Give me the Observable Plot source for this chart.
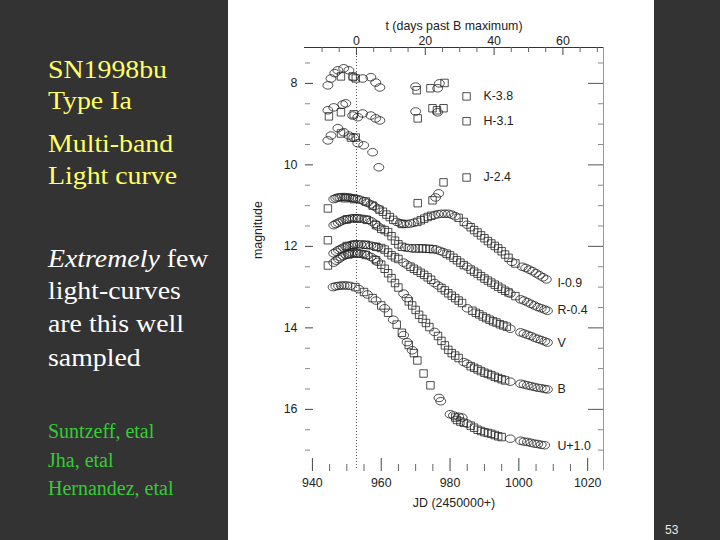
<!DOCTYPE html>
<html><head><meta charset="utf-8">
<script src="https://cdn.jsdelivr.net/npm/d3@7"></script>
<script src="https://cdn.jsdelivr.net/npm/@observablehq/plot@0.6"></script>
<style>
html,body{margin:0;padding:0;}
body{width:720px;height:540px;background:#333333;position:relative;overflow:hidden;}
#panel{position:absolute;left:228px;top:0;width:426px;height:540px;background:#ffffff;}
#chart{position:absolute;left:0;top:0;}
.t{position:absolute;left:48px;font-family:"Liberation Serif","Times New Roman",serif;white-space:nowrap;line-height:1;transform-origin:left center;}
.big{font-size:26px;transform:scaleX(1.07);}
.y{color:#ffff66;}
.w{color:#ffffff;}
.g{color:#33cc33;font-size:20px;}
#pg{position:absolute;left:665px;top:524px;font-family:"Liberation Sans",Arial,sans-serif;font-size:12px;line-height:1;color:#e8e8e8;}
</style></head>
<body>
<div id="panel"></div>
<div id="chart"></div>
<div class="t big y" style="top:57px">SN1998bu</div>
<div class="t big y" style="top:88px">Type Ia</div>
<div class="t big y" style="top:131px">Multi-band</div>
<div class="t big y" style="top:163px">Light curve</div>
<div class="t big w" style="top:246px"><i>Extremely</i> few</div>
<div class="t big w" style="top:278px">light-curves</div>
<div class="t big w" style="top:311px">are this well</div>
<div class="t big w" style="top:345px">sampled</div>
<div class="t g" style="top:421px">Suntzeff, etal</div>
<div class="t g" style="top:450px">Jha, etal</div>
<div class="t g" style="top:478px">Hernandez, etal</div>
<div id="pg">53</div>
<script>
// ---- data (JD-2450000, magnitude incl. offsets) ----
const tZero = 952.8; // JD of B maximum
const xDomain = [937.7, 1024.6];
const yDomain = [7.12, 17.5];

const K_c = [[944.5,8.05],[945.4,7.88],[946.5,7.75],[947.4,7.68],[949.1,7.63],[950.6,7.68],[952.0,7.85],[954.6,7.88],[957.0,7.85],[958.4,7.98],[959.6,8.10],[970.0,8.08],[976.4,8.12],[976.9,8.00]];
const K_s = [[948.3,7.83],[951.7,7.83],[952.6,7.88],[970.3,8.17],[974.3,8.12],[978.4,7.99]];
const H_c = [[944.5,8.66],[946.2,8.59],[948.8,8.52],[949.7,8.49],[951.7,8.79],[953.2,8.83],[954.6,8.74],[957.0,8.79],[958.4,8.86],[959.6,8.91],[970.0,8.69],[976.4,8.71]];
const H_s = [[944.8,8.81],[948.3,8.71],[952.0,8.76],[970.6,8.86],[974.9,8.61],[976.2,8.66],[978.1,8.61]];
const J_c = [[944.5,9.40],[945.4,9.28],[947.4,9.10],[949.1,9.20],[950.6,9.28],[952.0,9.33],[953.2,9.47],[954.9,9.52],[957.5,9.69],[959.3,10.06],[975.8,10.80],[976.7,10.70]];
const J_s = [[948.3,9.23],[951.2,9.33],[952.6,9.33],[970.6,10.94],[974.9,10.87],[978.1,10.43]];

const I_c = [[946.2,10.84],[946.8,10.82],[947.4,10.80],[948.0,10.80],[948.6,10.79],[949.3,10.79],[950.0,10.80],[950.6,10.80],[951.2,10.81],[951.8,10.82],[952.5,10.83],[953.2,10.84],[954.0,10.86],[955.0,10.89],[956.0,10.93],[957.0,10.97],[958.0,11.02],[959.0,11.07],[964.5,11.40],[965.5,11.43],[966.5,11.45],[967.5,11.45],[968.5,11.44],[969.5,11.42],[975.5,11.23],[976.5,11.21],[977.5,11.20],[978.5,11.20],[979.5,11.20],[980.5,11.22],[981.5,11.26],[985.0,11.47],[998.0,12.38],[1001.0,12.50],[1002.0,12.53],[1003.0,12.57],[1004.0,12.61],[1005.0,12.66],[1006.0,12.71],[1007.0,12.76],[1008.0,12.81]];
const I_s = [[944.5,11.07],[949.5,10.82],[952.0,10.84],[955.5,10.90],[957.5,11.00],[959.5,11.10],[960.5,11.15],[961.5,11.22],[962.5,11.28],[963.5,11.35],[966.0,11.45],[970.5,11.40],[971.5,11.36],[972.5,11.32],[973.5,11.28],[974.5,11.25],[982.5,11.30],[984.0,11.40],[986.0,11.53],[987.0,11.60],[988.0,11.66],[989.0,11.73],[990.0,11.80],[991.0,11.87],[992.0,11.93],[993.0,11.99],[994.0,12.05],[995.0,12.12],[996.0,12.20],[997.0,12.28],[999.0,12.42]];

const R_c = [[946.2,11.48],[946.8,11.45],[947.5,11.42],[948.2,11.39],[949.0,11.36],[949.7,11.34],[950.4,11.33],[951.1,11.32],[951.8,11.31],[952.5,11.31],[953.3,11.31],[954.2,11.32],[955.2,11.33],[956.2,11.35],[957.2,11.39],[958.2,11.45],[959.2,11.52],[967.0,12.03],[968.0,12.04],[969.0,12.05],[976.0,12.08],[977.0,12.11],[978.0,12.14],[985.0,12.50],[997.5,13.16],[1000.5,13.30],[1001.5,13.33],[1002.5,13.37],[1003.5,13.41],[1004.5,13.45],[1005.5,13.49],[1006.5,13.52],[1007.5,13.55],[1008.3,13.58]];
const R_s = [[944.5,11.85],[950.0,11.34],[953.0,11.32],[955.8,11.35],[958.5,11.48],[960.0,11.57],[961.0,11.60],[962.0,11.65],[963.0,11.75],[964.0,11.86],[965.0,11.95],[966.0,12.01],[970.0,12.05],[971.0,12.05],[972.0,12.05],[973.0,12.06],[974.0,12.06],[975.0,12.07],[979.0,12.18],[980.0,12.22],[981.0,12.28],[982.0,12.34],[983.0,12.40],[984.0,12.46],[986.0,12.57],[987.0,12.62],[988.0,12.67],[989.0,12.73],[990.0,12.79],[991.0,12.84],[992.0,12.89],[993.0,12.94],[994.0,12.99],[995.0,13.04],[996.0,13.09],[997.0,13.13],[999.0,13.22]];

const V_c = [[946.2,12.17],[946.9,12.13],[947.6,12.09],[948.3,12.06],[949.0,12.03],[949.7,12.01],[950.4,11.99],[951.1,11.97],[951.8,11.96],[952.5,11.95],[953.2,11.95],[954.0,11.95],[955.0,11.96],[956.0,11.97],[957.0,11.98],[958.0,12.00],[959.0,12.02],[966.5,12.40],[967.5,12.45],[975.5,12.90],[976.5,12.96],[985.0,13.52],[997.5,14.02],[1000.5,14.11],[1001.5,14.14],[1002.5,14.17],[1003.5,14.20],[1004.5,14.24],[1005.5,14.27],[1006.5,14.30],[1007.5,14.33],[1008.3,14.36]];
const V_s = [[944.5,12.47],[950.0,11.99],[952.0,11.96],[955.5,11.96],[958.5,12.01],[960.0,12.04],[961.0,12.08],[962.0,12.15],[963.0,12.22],[964.0,12.27],[965.0,12.31],[968.5,12.50],[969.5,12.55],[970.5,12.60],[971.5,12.65],[972.5,12.70],[973.5,12.76],[974.5,12.82],[977.5,13.02],[978.5,13.08],[979.5,13.15],[980.5,13.21],[981.5,13.27],[982.5,13.33],[983.5,13.39],[986.5,13.58],[987.5,13.63],[988.5,13.67],[989.5,13.72],[990.5,13.76],[991.5,13.80],[992.5,13.84],[993.5,13.87],[994.5,13.91],[995.5,13.94],[996.5,13.97]];

const B_c = [[946.2,12.40],[946.9,12.35],[947.6,12.31],[948.3,12.27],[949.0,12.24],[949.7,12.21],[950.4,12.19],[951.1,12.18],[951.8,12.17],[952.5,12.17],[953.3,12.17],[954.1,12.18],[955.0,12.19],[956.0,12.22],[957.0,12.26],[958.0,12.31],[959.0,12.38],[966.5,13.16],[967.5,13.27],[975.5,14.10],[984.0,14.84],[985.0,14.88],[997.5,15.32],[1000.5,15.37],[1001.5,15.39],[1002.5,15.41],[1003.5,15.43],[1004.5,15.45],[1005.5,15.47],[1006.5,15.48],[1007.5,15.50],[1008.3,15.51]];
const B_s = [[950.5,12.20],[953.0,12.18],[955.5,12.21],[958.5,12.34],[960.0,12.45],[961.0,12.55],[962.0,12.66],[963.0,12.78],[964.0,12.90],[965.0,13.01],[968.0,13.35],[969.0,13.45],[970.0,13.56],[971.0,13.68],[972.0,13.78],[973.0,13.88],[974.0,13.98],[976.5,14.20],[977.5,14.32],[978.5,14.43],[979.5,14.54],[980.5,14.62],[981.5,14.68],[982.5,14.74],[986.0,14.94],[987.0,14.98],[988.0,15.02],[989.0,15.06],[990.0,15.10],[991.0,15.13],[992.0,15.16],[993.0,15.20],[994.0,15.23],[995.0,15.26],[996.0,15.29]];

const U_c = [[946.0,13.00],[946.8,12.98],[947.6,12.97],[948.4,12.96],[949.2,12.96],[950.0,12.96],[951.0,12.97],[953.5,13.05],[956.0,13.18],[958.5,13.33],[961.0,13.52],[963.5,13.80],[966.5,14.18],[967.5,14.35],[969.0,14.55],[976.8,15.72],[977.3,15.80],[980.0,16.12],[981.0,16.15],[982.5,16.18],[983.5,16.20],[985.0,16.35],[997.5,16.72],[1000.5,16.77],[1001.5,16.79],[1002.5,16.80],[1003.5,16.82],[1004.5,16.84],[1005.5,16.85],[1006.5,16.87],[1007.5,16.88]];
const U_s = [[952.5,13.00],[955.0,13.12],[957.5,13.27],[960.0,13.45],[962.0,13.63],[964.5,13.92],[966.0,14.12],[968.0,14.42],[969.5,14.62],[970.5,14.80],[972.3,15.12],[974.3,15.41],[981.5,16.20],[982.0,16.26],[983.0,16.30],[984.0,16.33],[986.0,16.40],[987.0,16.45],[988.0,16.50],[989.0,16.53],[990.0,16.56],[991.0,16.58],[992.0,16.60],[993.0,16.63],[994.0,16.66],[995.0,16.68]];

// labels
const irLabels = ["K-3.8", "H-3.1", "J-2.4"];
const irLabelMag = [8.32, 8.93, 10.31];
const irMarkJD = 984.8;
const irTextJD = 989.7;
const optLabels = ["I-0.9", "R-0.4", "V", "B", "U+1.0"];
const optLabelMag = [12.91, 13.57, 14.36, 15.51, 16.91];
const optLabelJD = 1011.2;

// ticks
const yMajor = [8, 10, 12, 14, 16];
const yMinor = [7.5, 8.5, 9, 9.5, 10.5, 11, 11.5, 12.5, 13, 13.5, 14.5, 15, 15.5, 16.5, 17];
const jdMajor = [940, 960, 980, 1000, 1020];
const jdMinor = [945, 950, 955, 965, 970, 975, 985, 990, 995, 1005, 1010, 1015];
const tMajor = [0, 20, 40, 60];
const tMinor = [-10, -5, 5, 10, 15, 25, 30, 35, 45, 50, 55, 65, 70];

// ---- build ----
const circles = [K_c, H_c, J_c, I_c, R_c, V_c, B_c, U_c].flat();
const squares = [K_s, H_s, J_s, I_s, R_s, V_s, B_s, U_s].flat();
const irRows = irLabels.map((s, i) => ({label: s, mag: irLabelMag[i]}));
const optRows = optLabels.map((s, i) => ({label: s, mag: optLabelMag[i]}));

const ellipse = {
  draw(ctx, size) {
    const r = Math.sqrt(size / Math.PI);
    const rx = r * 1.15, ry = r * 0.88, k = 0.5523;
    ctx.moveTo(rx, 0);
    ctx.bezierCurveTo(rx, k * ry, k * rx, ry, 0, ry);
    ctx.bezierCurveTo(-k * rx, ry, -rx, k * ry, -rx, 0);
    ctx.bezierCurveTo(-rx, -k * ry, -k * rx, -ry, 0, -ry);
    ctx.bezierCurveTo(k * rx, -ry, rx, -k * ry, rx, 0);
    ctx.closePath();
  }
};

const ink = "#222";
const fs = 12.4;
const chart = Plot.plot({
  width: 720, height: 540,
  marginLeft: 304, marginRight: 117, marginTop: 47, marginBottom: 70,
  style: {background: "transparent", fontFamily: "'Liberation Sans', Arial, Helvetica, sans-serif", fontSize: fs + "px", color: ink},
  x: {domain: xDomain},
  y: {domain: yDomain, reverse: true},
  marks: [
    // frame (top & right visible)
    Plot.ruleY([yDomain[0]], {stroke: "#333", strokeWidth: 1}),
    Plot.ruleX([xDomain[1]], {stroke: "#999", strokeWidth: 1}),
    // t=0 dotted line
    Plot.ruleX([tZero], {stroke: "#555", strokeDasharray: "1,2", strokeWidth: 1}),
    // left ticks (inward)
    Plot.axisY({anchor: "right", frameAnchor: "left", ticks: yMajor, tickSize: 8, fill: "none", color: "#444"}),
    Plot.axisY({anchor: "right", frameAnchor: "left", ticks: yMinor, tickSize: 5, fill: "none", color: "#888"}),
    // right ticks (inward)
    Plot.axisY({anchor: "left", frameAnchor: "right", ticks: yMajor, tickSize: 15, fill: "none", color: "#555"}),
    Plot.axisY({anchor: "left", frameAnchor: "right", ticks: yMinor, tickSize: 5, fill: "none", color: "#888"}),
    // left labels
    Plot.axisY({anchor: "left", ticks: yMajor, tickSize: 0, tickPadding: 7, label: null, fill: ink}),
    // bottom ticks (inward)
    Plot.axisX({anchor: "top", frameAnchor: "bottom", ticks: jdMajor, tickSize: 13, fill: "none", color: "#444"}),
    Plot.axisX({anchor: "top", frameAnchor: "bottom", ticks: jdMinor, tickSize: 7, fill: "none", color: "#666"}),
    Plot.axisX({anchor: "bottom", ticks: jdMajor, tickSize: 0, tickPadding: 8, label: null, fill: ink, tickFormat: d => String(d)}),
    // top ticks (inward), t = JD - tZero
    Plot.axisX({anchor: "bottom", frameAnchor: "top", ticks: tMajor.map(t => tZero + t), tickSize: 8, fill: "none", color: "#444"}),
    Plot.axisX({anchor: "bottom", frameAnchor: "top", ticks: tMinor.map(t => tZero + t), tickSize: 5, fill: "none", color: "#666"}),
    Plot.axisX({anchor: "top", ticks: tMajor.map(t => tZero + t), tickSize: 0, tickPadding: 3, label: null, fill: ink, tickFormat: d => String(Math.round(d - tZero))}),
    // axis titles
    Plot.text(["t (days past B maximum)"], {frameAnchor: "top", dy: -26, fill: ink, fontSize: fs}),
    Plot.text(["JD (2450000+)"], {frameAnchor: "bottom", dy: 36, fill: ink, fontSize: fs}),
    Plot.text(["magnitude"], {frameAnchor: "left", dx: -46, rotate: -90, fill: ink, fontSize: fs}),
    // data
    Plot.dot(squares, {x: d => d[0], y: d => d[1], symbol: "square", r: 4.2, stroke: ink, strokeWidth: 0.8, fill: "none"}),
    Plot.dot(circles, {x: d => d[0], y: d => d[1], symbol: ellipse, r: 4.3, stroke: ink, strokeWidth: 0.8, fill: "none"}),
    // labels
    Plot.dot(irRows, {x: () => irMarkJD, y: "mag", symbol: "square", r: 4.2, stroke: ink, strokeWidth: 0.8, fill: "none"}),
    Plot.text(irRows, {x: () => irTextJD, y: "mag", text: "label", textAnchor: "start", fill: ink, fontSize: fs}),
    Plot.text(optRows, {x: () => optLabelJD, y: "mag", text: "label", textAnchor: "start", fill: ink, fontSize: fs})
  ]
});
document.getElementById("chart").appendChild(chart);
</script>
</body></html>
